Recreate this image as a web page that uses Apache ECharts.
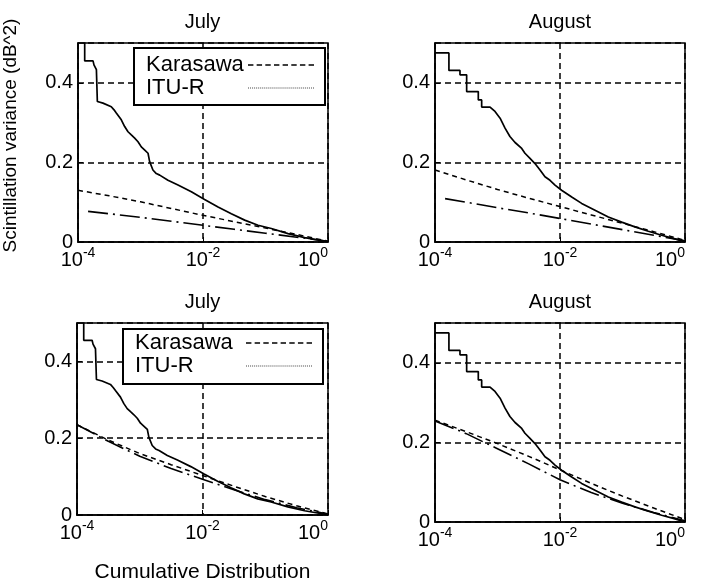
<!DOCTYPE html>
<html><head><meta charset="utf-8">
<script src="https://cdn.jsdelivr.net/npm/echarts@6/dist/echarts.min.js"></script>
<style>html,body{margin:0;padding:0;background:#fff}#c{width:701px;height:584px}</style>
</head><body><div id="c"></div>
<script>
// ---------- data ----------
const panelTitles = ['July', 'August', 'July', 'August'];
const yAxisName = 'Scintillation variance (dB^2)';
const xAxisName = 'Cumulative Distribution';
const legendNames = ['Karasawa', 'ITU-R'];

// measured CCDF of scintillation variance [probability, variance]
const julyMeasured = [
  [1.28e-4, 0.6], [1.28e-4, 0.455], [1.74e-4, 0.455], [1.80e-4, 0.445], [1.97e-4, 0.433], [2.04e-4, 0.433],
  [2.04e-4, 0.353], [2.51e-4, 0.349], [2.67e-4, 0.345], [3.41e-4, 0.340], [3.77e-4, 0.332], [4.10e-4, 0.324],
  [4.93e-4, 0.307], [5.58e-4, 0.290], [6.31e-4, 0.277], [7.13e-4, 0.269], [8.07e-4, 0.261], [9.12e-4, 0.252],
  [1.03e-3, 0.239], [1.17e-3, 0.231], [1.32e-3, 0.223], [1.40e-3, 0.202], [1.58e-3, 0.181], [1.79e-3, 0.172],
  [2.03e-3, 0.168], [2.75e-3, 0.155], [3.98e-3, 0.143], [6.51e-3, 0.126], [1.06e-2, 0.107], [1.74e-2, 0.088],
  [2.84e-2, 0.071], [4.64e-2, 0.055], [7.59e-2, 0.042], [0.124, 0.034], [0.229, 0.021], [0.423, 0.011],
  [0.885, 0.002], [1, 0]
];
const augustMeasured = [
  [1e-4, 0.475], [1.67e-4, 0.475], [1.67e-4, 0.431], [2.51e-4, 0.431], [2.51e-4, 0.420], [3.21e-4, 0.420],
  [3.21e-4, 0.378], [4.93e-4, 0.378], [4.93e-4, 0.357], [5.58e-4, 0.357], [5.58e-4, 0.339], [7.59e-4, 0.339],
  [9.12e-4, 0.328], [1.10e-3, 0.311], [1.32e-3, 0.286], [1.58e-3, 0.265], [1.91e-3, 0.250], [2.44e-3, 0.235],
  [2.75e-3, 0.223], [3.31e-3, 0.210], [3.98e-3, 0.197], [4.79e-3, 0.181], [5.75e-3, 0.164], [6.92e-3, 0.155],
  [8.32e-3, 0.143], [1.06e-2, 0.130], [1.54e-2, 0.113], [2.22e-2, 0.097], [3.63e-2, 0.080], [5.93e-2, 0.063],
  [9.70e-2, 0.050], [0.158, 0.038], [0.259, 0.027], [0.423, 0.017], [0.692, 0.008], [1, 0]
];
// predictions, top row
const karasawaTopJuly = [[1e-4,0.130],[3.16e-4,0.116],[1e-3,0.101],[3.16e-3,0.084],[1e-2,0.067],[3.16e-2,0.051],[1e-1,0.035],[3.16e-1,0.019],[1,0.002]];
const ituTopJuly      = [[1.45e-4,0.077],[3.16e-4,0.071],[1e-3,0.062],[3.16e-3,0.052],[1e-2,0.042],[3.16e-2,0.032],[1e-1,0.022],[3.16e-1,0.012],[1,0.002]];
const karasawaTopAug  = [[1e-4,0.181],[3.16e-4,0.156],[1e-3,0.132],[3.16e-3,0.110],[1e-2,0.089],[3.16e-2,0.068],[1e-1,0.047],[3.16e-1,0.026],[1,0.004]];
const ituTopAug       = [[1.45e-4,0.109],[3.16e-4,0.100],[1e-3,0.086],[3.16e-3,0.073],[1e-2,0.059],[3.16e-2,0.045],[1e-1,0.031],[3.16e-1,0.017],[1,0.003]];
// predictions, bottom row
const karasawaBotJuly = [[1e-4,0.235],[3.16e-4,0.195],[1e-3,0.160],[3.16e-3,0.131],[1e-2,0.103],[3.16e-2,0.075],[1e-1,0.048],[3.16e-1,0.024],[1,0.003]];
const ituBotJuly      = [[1e-4,0.235],[3.16e-4,0.192],[1e-3,0.153],[3.16e-3,0.121],[1e-2,0.093],[3.16e-2,0.066],[1e-1,0.040],[3.16e-1,0.019],[1,0.002]];
const karasawaBotAug  = [[1e-4,0.256],[3.16e-4,0.227],[1e-3,0.197],[3.16e-3,0.165],[1e-2,0.131],[3.16e-2,0.097],[1e-1,0.065],[3.16e-1,0.035],[1,0.006]];
const ituBotAug       = [[1e-4,0.254],[3.16e-4,0.222],[1e-3,0.184],[3.16e-3,0.146],[1e-2,0.106],[3.16e-2,0.074],[1e-1,0.047],[3.16e-1,0.024],[1,0.003]];

const panelMeasured = [julyMeasured, augustMeasured, julyMeasured, augustMeasured];
const panelKarasawa = [karasawaTopJuly, karasawaTopAug, karasawaBotJuly, karasawaBotAug];
const panelItu = [ituTopJuly, ituTopAug, ituBotJuly, ituBotAug];

// ---------- layout & style ----------
const FONT = '"Liberation Sans", Arial, Helvetica, sans-serif';
const grids = [
  { left: 77,  top: 43,  width: 251, height: 199 },
  { left: 435, top: 43,  width: 250, height: 199 },
  { left: 77,  top: 323, width: 251, height: 199 },
  { left: 435, top: 323, width: 250, height: 199 }
];
const gridDash = { color: '#000', width: 1.5, type: [6, 4] };

function dashIcon() {
  let p = 'path://';
  for (let x = 0; x < 64; x += 8) p += 'M' + x + ',0h5v1.4h-5z';
  return p;
}
function dotIcon() {
  let p = 'path://';
  for (let x = 0; x < 66; x += 2) p += 'M' + x + ',0h1v1h-1z';
  return p;
}

const option = {
  backgroundColor: '#fff',
  animation: false,
  textStyle: { fontFamily: FONT, color: '#000' },
  title: grids.map((g, i) => ({
    text: panelTitles[i],
    left: g.left + g.width / 2,
    top: g.top - 31,
    textAlign: 'center',
    padding: 0,
    textStyle: { fontFamily: FONT, fontSize: 20, fontWeight: 'normal', color: '#000' }
  })),
  grid: grids.map(g => Object.assign({ show: true, borderColor: '#000', borderWidth: 1.5, containLabel: false }, g)),
  xAxis: grids.map((g, i) => ({
    type: 'log', logBase: 100, gridIndex: i, min: 1e-4, max: 1,
    name: i === 2 ? xAxisName : '',
    nameLocation: 'middle', nameGap: 47,
    nameTextStyle: { fontFamily: FONT, fontSize: 21, color: '#000' },
    axisLine: { show: true, lineStyle: { color: '#000', width: 1.5 } },
    axisTick: { show: true, inside: true, length: 5, lineStyle: { color: '#000' } },
    splitLine: { show: true, lineStyle: gridDash },
    axisLabel: {
      margin: 4, color: '#000', alignMaxLabel: 'right',
      formatter: v => '{b|10}{s|' + Math.round(Math.log10(v)) + '}',
      rich: {
        b: { fontFamily: FONT, fontSize: 20, color: '#000' },
        s: { fontFamily: FONT, fontSize: 14, color: '#000', padding: [0, 0, 14, 0] }
      }
    }
  })),
  yAxis: grids.map((g, i) => ({
    type: 'value', gridIndex: i, min: 0, max: 0.5, interval: 0.2,
    name: i === 0 ? yAxisName : '',
    nameLocation: 'middle', nameGap: 58, nameRotate: 90,
    nameTextStyle: { fontFamily: FONT, fontSize: 19, color: '#000', padding: [0, 0, 0, 14] },
    axisLine: { show: true, lineStyle: { color: '#000', width: 1.5 } },
    axisTick: { show: true, inside: true, length: 5, lineStyle: { color: '#000' } },
    splitLine: { show: true, lineStyle: gridDash },
    axisLabel: { margin: 5, color: '#000', fontFamily: FONT, fontSize: 20, showMaxLabel: false }
  })),
  legend: [
    { left: 134, top: 48, padding: [6, 11, 6, 12], w: 97 },
    { left: 123, top: 329, padding: [3, 11, 7, 12], w: 106 }
  ].map(l => ({
    left: l.left, top: l.top, padding: l.padding,
    orient: 'vertical', align: 'right', selectedMode: false,
    itemGap: 1, itemWidth: 66, itemHeight: 3,
    backgroundColor: '#fff', borderColor: '#000', borderWidth: 2,
    formatter: n => '{t|' + n + '}',
    textStyle: {
      rich: { t: { fontFamily: FONT, fontSize: 22, color: '#000', width: l.w, align: 'left', lineHeight: 22 } }
    },
    data: [
      { name: legendNames[0], icon: dashIcon(), itemStyle: { color: '#000' } },
      { name: legendNames[1], icon: dotIcon(), itemStyle: { color: '#444' } }
    ]
  })),
  series: []
};

grids.forEach((g, i) => {
  option.series.push({
    name: 'Measured', type: 'line', xAxisIndex: i, yAxisIndex: i,
    data: panelMeasured[i], showSymbol: false, symbol: 'none', clip: true,
    lineStyle: { color: '#000', width: 1.7 }, itemStyle: { color: '#000' }
  });
  option.series.push({
    name: legendNames[0], type: 'line', xAxisIndex: i, yAxisIndex: i,
    data: panelKarasawa[i], showSymbol: false, symbol: 'none', clip: true,
    lineStyle: { color: '#000', width: 1.5, type: [5, 4] }, itemStyle: { color: '#000' }
  });
  option.series.push({
    name: legendNames[1], type: 'line', xAxisIndex: i, yAxisIndex: i,
    data: panelItu[i], showSymbol: false, symbol: 'none', clip: true,
    lineStyle: { color: '#000', width: 1.6, type: [20, 5, 2, 5] }, itemStyle: { color: '#000' }
  });
});

const chart = echarts.init(document.getElementById('c'), null, { renderer: 'canvas' });
chart.setOption(option);
</script>
</body></html>
